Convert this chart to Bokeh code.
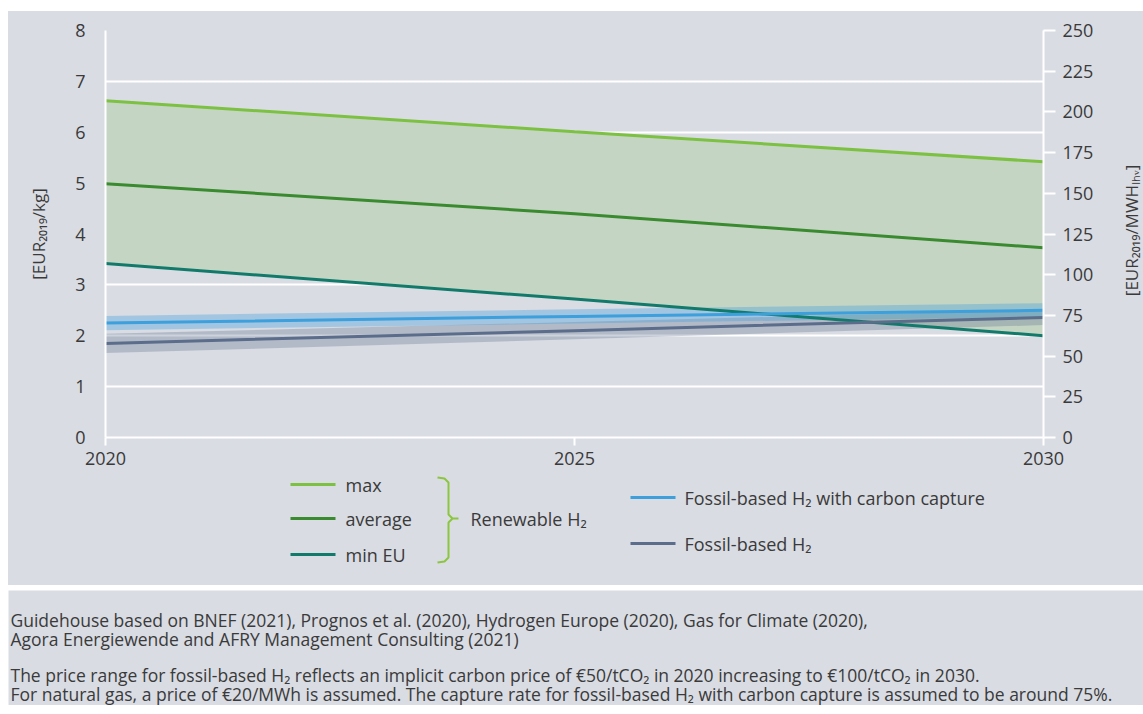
import math
from bokeh.plotting import figure
from bokeh.models import Range1d, LinearAxis, FixedTicker, Spacer
from bokeh.layouts import column, row
from bokeh.core.properties import value
from bokeh.embed import file_html
from bokeh.resources import INLINE

# ---- data ----
years = [2020, 2025, 2030]
max_h2 = [6.62, 6.01, 5.42]
avg_h2 = [4.99, 4.40, 3.73]
min_eu = [3.42, 2.72, 2.00]
ccs = [2.25, 2.38, 2.50]
ccs_low = [2.11, 2.24, 2.37]
ccs_high = [2.39, 2.52, 2.64]
fossil = [1.85, 2.10, 2.36]
fossil_low = [1.66, 1.93, 2.21]
fossil_high = [2.04, 2.27, 2.51]
x_ticks = [2020, 2025, 2030]
y_ticks = [0, 1, 2, 3, 4, 5, 6, 7, 8]
y2_ticks = [0, 25, 50, 75, 100, 125, 150, 175, 200, 225, 250]

left_label = "[EUR\u2082\u2080\u2081\u2089/kg]"
right_label = "[EUR\u2082\u2080\u2081\u2089/MWH\u2097\u2095\u1d65]"
legend_left = ["max", "average", "min EU"]
group_label = "Renewable H\u2082"
legend_right = ["Fossil-based H\u2082 with carbon capture", "Fossil-based H\u2082"]
source_lines = [
    "Guidehouse based on BNEF (2021), Prognos et al. (2020), Hydrogen Europe (2020), Gas for Climate (2020),",
    "Agora Energiewende and AFRY Management Consulting (2021)",
    "The price range for fossil-based H\u2082 reflects an implicit carbon price of \u20ac50/tCO\u2082 in 2020 increasing to \u20ac100/tCO\u2082 in 2030.",
    "For natural gas, a price of \u20ac20/MWh is assumed. The capture rate for fossil-based H\u2082 with carbon capture is assumed to be around 75%.",
]

BG = "#d9dce3"
TXT = "#3a3a3a"
C_MAX = "#7cc142"
C_AVG = "#3a8a2f"
C_MIN = "#127a6b"
C_CCS = "#3d9fdc"
C_FOS = "#5b6d8b"
C_FILL = "#c5d5c4"
C_BRACE = "#8cc63f"
FONT = "Open Sans"

W = 1135          # full panel width
PW = 1105         # main plot width
FL, FR = 97, 1035  # frame left/right in panel coords
TOP, BOT, PH = 19, 35, 461


def blank(width, height, xr, yr, **kw):
    f = figure(width=width, height=height, x_range=xr, y_range=yr,
               output_backend="svg", toolbar_location=None,
               x_axis_location=None, y_axis_location=None, **kw)
    f.grid.visible = False
    f.background_fill_color = BG
    f.border_fill_color = BG
    f.outline_line_color = None
    return f


# ---- main plot ----
p = figure(width=PW, height=PH, x_range=Range1d(2020, 2030), y_range=Range1d(0, 8),
           output_backend="svg", toolbar_location=None,
           min_border_left=FL, min_border_right=PW - FR, min_border_top=TOP, min_border_bottom=BOT)
p.background_fill_color = BG
p.border_fill_color = BG
p.outline_line_color = None
p.extra_y_ranges = {"mwh": Range1d(0, 250)}

p.varea(x=years, y1=min_eu, y2=max_h2, fill_color=C_FILL)
p.varea(x=years, y1=fossil_low, y2=fossil_high, fill_color=C_FOS, fill_alpha=0.30)
p.varea(x=years, y1=ccs_low, y2=ccs_high, fill_color=C_CCS, fill_alpha=0.35)
p.line(years, max_h2, line_color=C_MAX, line_width=3)
p.line(years, avg_h2, line_color=C_AVG, line_width=3)
p.line(years, min_eu, line_color=C_MIN, line_width=3)
p.line(years, fossil, line_color=C_FOS, line_width=3)
p.line(years, ccs, line_color=C_CCS, line_width=3)

xa = p.xaxis[0]
xa.ticker = FixedTicker(ticks=x_ticks)
xa.axis_line_color = "white"
xa.axis_line_width = 2
xa.major_tick_line_color = "white"
xa.major_tick_line_width = 2
xa.major_tick_out = 8
xa.major_tick_in = 0
xa.minor_tick_line_color = None
xa.major_label_standoff = 6
xa.major_label_text_font = FONT
xa.major_label_text_font_size = "18px"
xa.major_label_text_color = TXT

ya = p.yaxis[0]
ya.ticker = FixedTicker(ticks=y_ticks)
ya.axis_line_color = "white"
ya.axis_line_width = 2
ya.major_tick_line_color = None
ya.minor_tick_line_color = None
ya.major_tick_out = 0
ya.major_label_standoff = 20
ya.major_label_text_font = FONT
ya.major_label_text_font_size = "18px"
ya.major_label_text_color = TXT
ya.axis_label = left_label
ya.axis_label_standoff = 22
ya.axis_label_text_font = FONT
ya.axis_label_text_font_size = "17px"
ya.axis_label_text_font_style = "normal"
ya.axis_label_text_color = TXT

ra = LinearAxis(y_range_name="mwh", ticker=FixedTicker(ticks=y2_ticks))
ra.axis_line_color = "white"
ra.axis_line_width = 2
ra.major_tick_line_color = "white"
ra.major_tick_line_width = 2
ra.major_tick_out = 12
ra.major_tick_in = 0
ra.minor_tick_line_color = None
ra.major_label_standoff = 7
ra.major_label_text_font = FONT
ra.major_label_text_font_size = "18px"
ra.major_label_text_color = TXT
p.add_layout(ra, "right")

p.xgrid.grid_line_color = None
p.ygrid.grid_line_color = "white"
p.ygrid.grid_line_width = 2

# ---- right axis title (rotated, reads bottom-to-top) ----
rl = blank(W - PW, PH, Range1d(0, W - PW), Range1d(0, 8),
           min_border_left=0, min_border_right=0, min_border_top=TOP, min_border_bottom=BOT)
rl.text(x=[18], y=[4.07], text=[right_label], angle=math.pi / 2, text_font=value(FONT),
        text_font_size="17px", text_color=TXT, text_align="center", text_baseline="middle")

# ---- legend panel (x in panel pixels, y downward) ----
LH = 113
lg = blank(W, LH, Range1d(FL, FR), Range1d(LH, 0),
           min_border_left=FL, min_border_right=W - FR, min_border_top=0, min_border_bottom=0)

left_y = [12, 46, 82]
left_cols = [C_MAX, C_AVG, C_MIN]
lg.segment(x0=[282] * 3, y0=left_y, x1=[327] * 3, y1=left_y, line_color=left_cols, line_width=3)
lg.text(x=[337] * 3, y=left_y, text=legend_left, text_font=value(FONT), text_font_size="18px",
        text_color=TXT, text_baseline="middle", text_align="left")
bx = [429, 436, 440, 440, 444, 450, 444, 440, 440, 436, 429]
by = [5, 6, 10, 42, 46, 46, 46, 50, 85, 89, 90]
lg.line(bx, by, line_color=C_BRACE, line_width=2)
lg.text(x=[462], y=[46], text=[group_label], text_font=value(FONT), text_font_size="18px",
        text_color=TXT, text_baseline="middle", text_align="left")

right_y = [25, 71]
lg.segment(x0=[622] * 2, y0=right_y, x1=[667] * 2, y1=right_y, line_color=[C_CCS, C_FOS], line_width=3)
lg.text(x=[676] * 2, y=right_y, text=legend_right, text_font=value(FONT), text_font_size="18px",
        text_color=TXT, text_baseline="middle", text_align="left")

# ---- source panel ----
SH = 115
sp = blank(W, SH, Range1d(0, W), Range1d(SH, 0),
           min_border_left=0, min_border_right=0, min_border_top=0, min_border_bottom=0)
sp.text(x=[2] * 4, y=[29, 48, 84, 103], text=source_lines, text_font=value(FONT),
        text_font_size="17.5px", text_color=TXT, text_baseline="middle", text_align="left")

inner = column(row(p, rl, spacing=0), lg, spacing=0, styles={"background-color": BG})
body = column(inner, sp, spacing=5)
layout = column(Spacer(height=11, width=W), row(Spacer(width=8, height=10), body, spacing=0), spacing=0)

open("out.html", "w").write(file_html(layout, INLINE))
